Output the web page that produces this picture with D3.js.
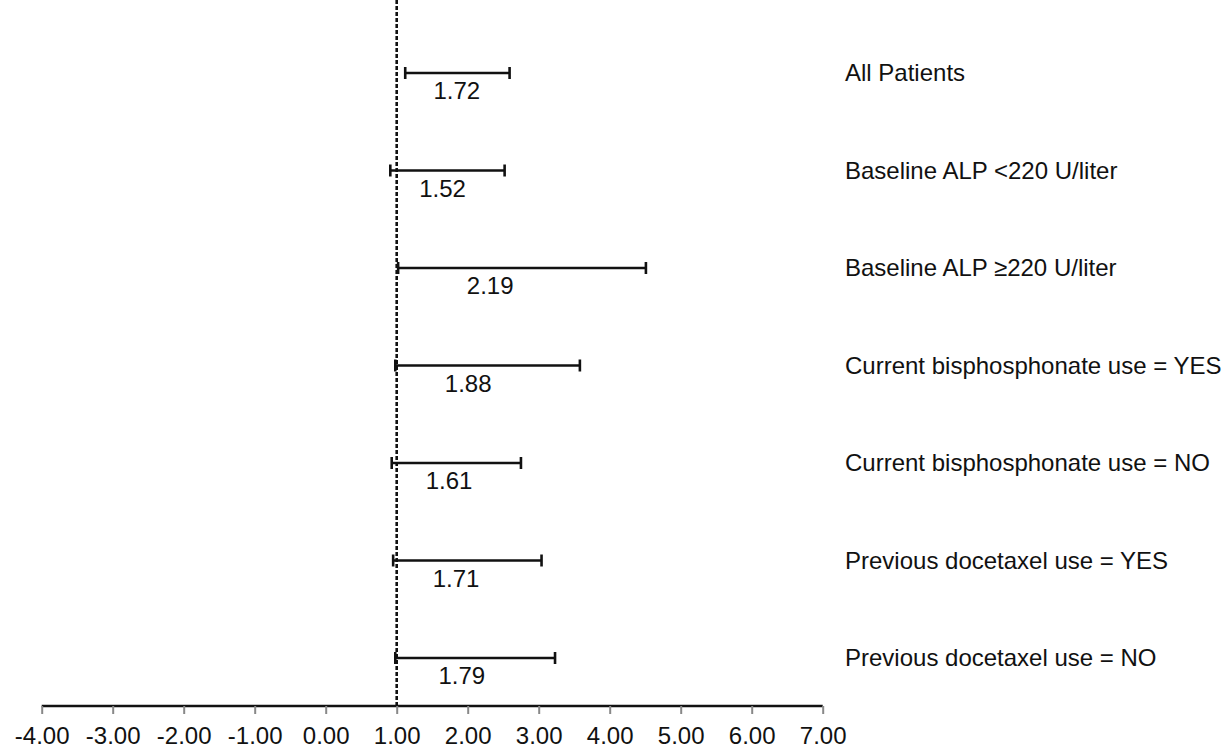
<!DOCTYPE html>
<html>
<head>
<meta charset="utf-8">
<script src="https://cdn.jsdelivr.net/npm/d3@7"></script>
<style>
  html, body { margin: 0; padding: 0; background: #fff; }
  svg { display: block; font-family: "Liberation Sans", Arial, sans-serif; }
</style>
</head>
<body>
<svg id="chart" width="1230" height="753"></svg>
<script>
const categories = [
  "All Patients",
  "Baseline ALP <220 U/liter",
  "Baseline ALP \u2265220 U/liter",
  "Current bisphosphonate use = YES",
  "Current bisphosphonate use = NO",
  "Previous docetaxel use = YES",
  "Previous docetaxel use = NO"
];
const estimates = [1.72, 1.52, 2.19, 1.88, 1.61, 1.71, 1.79];
const lowerCI   = [1.12, 0.91, 1.02, 0.98, 0.93, 0.95, 0.98];
const upperCI   = [2.59, 2.52, 4.51, 3.58, 2.75, 3.04, 3.23];
const tickValues = [-4, -3, -2, -1, 0, 1, 2, 3, 4, 5, 6, 7];
const referenceValue = 1;

const svg = d3.select("#chart");
const x = d3.scaleLinear().domain([-4, 7]).range([41.7, 822.7]);
const y = d3.scalePoint().domain(categories).range([73, 658]);
const axisY = 706;
const FONT = "24px";

const rows = categories.map((c, i) => ({
  cat: c, est: estimates[i], lo: lowerCI[i], hi: upperCI[i]
}));

// reference dashed line
svg.append("line")
  .attr("x1", 397).attr("x2", 397)
  .attr("y1", 0).attr("y2", axisY)
  .attr("transform", `translate(${x(referenceValue) - 397},0)`)
  .attr("stroke", "#111").attr("stroke-width", 2.6)
  .attr("stroke-dasharray", "4,2");

// x axis
const fmt = d => d.toFixed(2);  // plain hyphen-minus as in the reference
const axis = d3.axisBottom(x)
  .tickValues(tickValues)
  .tickFormat(fmt)
  .tickSize(8)
  .tickPadding(13);
const gAxis = svg.append("g").attr("transform", `translate(0,${axisY})`).call(axis);
gAxis.select(".domain").attr("stroke", "#111").attr("stroke-width", 2.5)
  .attr("d", `M${x(-4)},0H${x(7)}`);
gAxis.selectAll(".tick line").attr("stroke", "#888").attr("stroke-width", 2);
gAxis.selectAll(".tick text")
  .attr("fill", "#111")
  .style("font-size", FONT)
  .style("font-family", "'Liberation Sans', Arial, sans-serif");

// error bars
const g = svg.append("g");
const bars = g.selectAll("g.row").data(rows).join("g").attr("class", "row");
bars.append("line")
  .attr("x1", d => x(d.lo)).attr("x2", d => x(d.hi))
  .attr("y1", d => y(d.cat)).attr("y2", d => y(d.cat))
  .attr("stroke", "#111").attr("stroke-width", 2.6);
bars.append("line")
  .attr("x1", d => x(d.lo)).attr("x2", d => x(d.lo))
  .attr("y1", d => y(d.cat) - 6).attr("y2", d => y(d.cat) + 6)
  .attr("stroke", "#111").attr("stroke-width", 2.6);
bars.append("line")
  .attr("x1", d => x(d.hi)).attr("x2", d => x(d.hi))
  .attr("y1", d => y(d.cat) - 6).attr("y2", d => y(d.cat) + 6)
  .attr("stroke", "#111").attr("stroke-width", 2.6);

// value labels
bars.append("text")
  .attr("x", d => x(d.est) + 9)
  .attr("y", d => y(d.cat) + 26)
  .attr("text-anchor", "middle")
  .attr("fill", "#111")
  .style("font-size", FONT)
  .text(d => d.est.toFixed(2));

// category labels
bars.append("text")
  .attr("x", 845)
  .attr("y", d => y(d.cat))
  .attr("dy", "0.35em")
  .attr("fill", "#111")
  .style("font-size", FONT)
  .text(d => d.cat);
</script>
</body>
</html>
